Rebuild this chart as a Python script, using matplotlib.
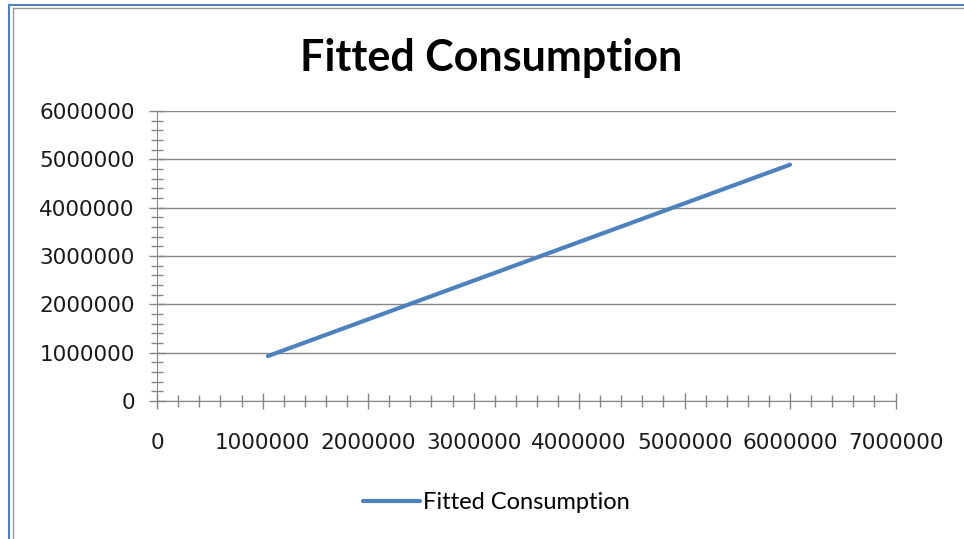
import matplotlib.pyplot as plt
from matplotlib.lines import Line2D
from matplotlib.ticker import MultipleLocator

# data
income = [1050000, 6000000]
fitted = [930000, 4890000]
series_name = "Fitted Consumption"

blue = "#4F81BD"
grey = "#868686"

fig = plt.figure(figsize=(9.64, 5.39), dpi=100)
ax = fig.add_axes([0.163, 0.256, 0.766, 0.538])

ax.plot(income, fitted, color=blue, lw=3, solid_capstyle="round", label=series_name)

ax.set_xlim(0, 7000000)
ax.set_ylim(0, 6000000)
ax.xaxis.set_major_locator(MultipleLocator(1000000))
ax.yaxis.set_major_locator(MultipleLocator(1000000))
ax.xaxis.set_minor_locator(MultipleLocator(200000))
ax.yaxis.set_minor_locator(MultipleLocator(200000))
ax.ticklabel_format(style="plain", useOffset=False)

ax.grid(axis="y", which="major", color=grey, lw=1)
ax.set_axisbelow(True)
for s in ["top", "right"]:
    ax.spines[s].set_visible(False)
for s in ["left", "bottom"]:
    ax.spines[s].set_color(grey)
ax.tick_params(which="major", direction="inout", length=12, color=grey, width=1,
               labelsize=15.5, labelcolor="#1a1a1a")
ax.tick_params(which="minor", direction="inout", length=8, color=grey, width=1)
ax.tick_params(axis="x", pad=17)
ax.tick_params(axis="y", pad=10)

fig.text(0.509, 0.892, series_name, ha="center", va="center",
         fontsize=31, fontweight="bold", family="Lato")

fig.legend(loc="center", bbox_to_anchor=(0.515, 0.067), frameon=False,
           prop={"family": "Lato", "size": 17}, handlelength=2.4, handletextpad=0.15)

# chart frame
fig.add_artist(Line2D([0.009, 1.0], [0.991, 0.991], transform=fig.transFigure, color=blue, lw=1.5))
fig.add_artist(Line2D([0.009, 0.009], [0.0, 0.991], transform=fig.transFigure, color=blue, lw=1.5))
fig.add_artist(Line2D([0.013, 1.0], [0.985, 0.985], transform=fig.transFigure, color="#999999", lw=1))
fig.add_artist(Line2D([0.013, 0.013], [0.0, 0.985], transform=fig.transFigure, color="#999999", lw=1))

fig.savefig("out.png", dpi=100)
